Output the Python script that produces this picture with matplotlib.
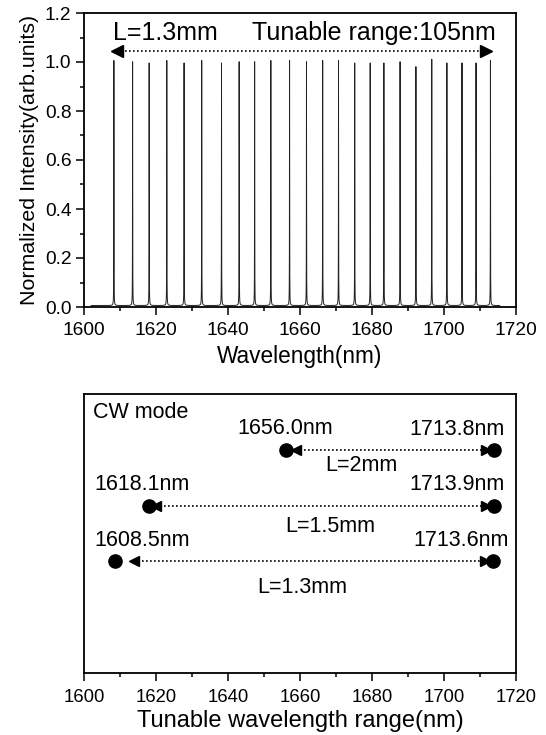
import numpy as np
import matplotlib
matplotlib.use("Agg")
import matplotlib.pyplot as plt
from matplotlib.ticker import MultipleLocator

plt.rcParams['font.family'] = ['Liberation Sans', 'DejaVu Sans']

# top panel: lasing peaks for L=1.3mm
peak_nm = [1608.3, 1613.5, 1618.1, 1623.0, 1627.8, 1632.7, 1638.2, 1643.1,
           1647.4, 1651.9, 1657.1, 1661.8, 1666.3, 1670.7, 1675.2, 1679.5,
           1683.3, 1687.8, 1692.2, 1696.6, 1700.8, 1705.0, 1708.9, 1712.9]
peak_height = [1.00, 0.995, 0.99, 1.00, 0.99, 1.00, 0.99, 0.995,
               0.995, 1.00, 1.00, 0.995, 1.00, 1.00, 0.99, 0.99,
               0.99, 0.995, 0.975, 1.005, 0.99, 0.99, 0.99, 1.00]
spectrum_span = [1602.0, 1715.5]
baseline = 0.006
tunable_range = [1608, 1713]

# bottom panel: CW tuning ranges
cavity = ["L=2mm", "L=1.5mm", "L=1.3mm"]
start_nm = [1656.0, 1618.1, 1608.5]
end_nm = [1713.8, 1713.9, 1713.6]
row_y = [0.80, 0.60, 0.40]
head_gap = [2.8, 2.0, 5.5]

fig = plt.figure(figsize=(5.46, 7.35), dpi=100)

# ---------- top panel ----------
ax1 = fig.add_axes([84/546, 1-307/735, 432/546, 294/735])
wl = np.arange(spectrum_span[0], spectrum_span[1], 0.002)
spec = np.full_like(wl, baseline)
gamma = 0.025
for c, h in zip(peak_nm, peak_height):
    spec += h * gamma**2 / ((wl - c)**2 + gamma**2)
ax1.plot(wl, spec, color='#222222', lw=0.7)

ax1.set_xlim(1600, 1720)
ax1.set_ylim(0, 1.2)
ax1.xaxis.set_major_locator(MultipleLocator(20))
ax1.xaxis.set_minor_locator(MultipleLocator(10))
ax1.yaxis.set_major_locator(MultipleLocator(0.2))
ax1.yaxis.set_minor_locator(MultipleLocator(0.1))
ax1.yaxis.set_major_formatter(plt.FormatStrFormatter('%.1f'))
ax1.tick_params(which='both', direction='out', labelsize=13.8, width=1.1)
ax1.tick_params(which='major', length=5.5)
ax1.tick_params(which='minor', length=3)
ax1.tick_params(axis='x', pad=5.5)
for s in ax1.spines.values():
    s.set_linewidth(1.3)
ax1.set_xlabel("Wavelength(nm)", fontsize=16.3, labelpad=4)
ax1.set_ylabel("Normalized Intensity(arb.units)", fontsize=15.4, labelpad=4)

ay = 1.046
ax1.plot(tunable_range, [ay, ay], color='black', lw=1.2, ls=(0, (1, 1.4)))
ax1.plot(tunable_range[0] + 1.2, ay, marker='<', color='black', ms=8)
ax1.plot(tunable_range[1] - 1.2, ay, marker='>', color='black', ms=8)
ax1.text(tunable_range[0], 1.12, "L=1.3mm", fontsize=18, va='center', ha='left')
ax1.text(tunable_range[1] + 1.5, 1.12, "Tunable range:105nm", fontsize=18,
         va='center', ha='right')

# ---------- bottom panel ----------
ax2 = fig.add_axes([84/546, 1-673/735, 432/546, 279/735])
ax2.set_xlim(1600, 1720)
ax2.set_ylim(0, 1)
ax2.xaxis.set_major_locator(MultipleLocator(20))
ax2.xaxis.set_minor_locator(MultipleLocator(10))
ax2.set_yticks([])
ax2.tick_params(which='both', direction='out', labelsize=13.3, width=1.1)
ax2.tick_params(which='major', length=5.5)
ax2.tick_params(which='minor', length=3)
ax2.tick_params(axis='x', pad=6)
for s in ax2.spines.values():
    s.set_linewidth(1.3)
ax2.set_xlabel("Tunable wavelength range(nm)", fontsize=17, labelpad=3)

ax2.text(1602.6, 0.933, "CW mode", fontsize=15.5, va='center', ha='left')
for i, (lab, s0, e0, y) in enumerate(zip(cavity, start_nm, end_nm, row_y)):
    g = head_gap[i]
    ax2.plot([s0, e0], [y, y], 'o', color='black', ms=9.5)
    ax2.plot([s0 + g, e0 - 2.2], [y, y], color='black', lw=1.2, ls=(0, (1, 1.4)))
    ax2.plot(s0 + g, y, marker='<', color='black', ms=7.5)
    ax2.plot(e0 - 2.2, y, marker='>', color='black', ms=7.5)
    if i == 0:
        ax2.text(s0, y + 0.076, f"{s0:.1f}nm", fontsize=15.5, va='center', ha='center')
    else:
        ax2.text(1603.0, y + 0.076, f"{s0:.1f}nm", fontsize=15.5, va='center', ha='left')
    ax2.text(e0 + 3.0 + (1.5 if i == 2 else 0), y + 0.074, f"{e0:.1f}nm",
             fontsize=15.5, va='center', ha='right')

label_x = [1677.1, 1668.3, 1660.5]
label_y = [0.742, 0.524, 0.307]
for lab, lx, ly in zip(cavity, label_x, label_y):
    ax2.text(lx, ly, lab, fontsize=15.5, va='center', ha='center')

fig.savefig("out.png", dpi=100)
